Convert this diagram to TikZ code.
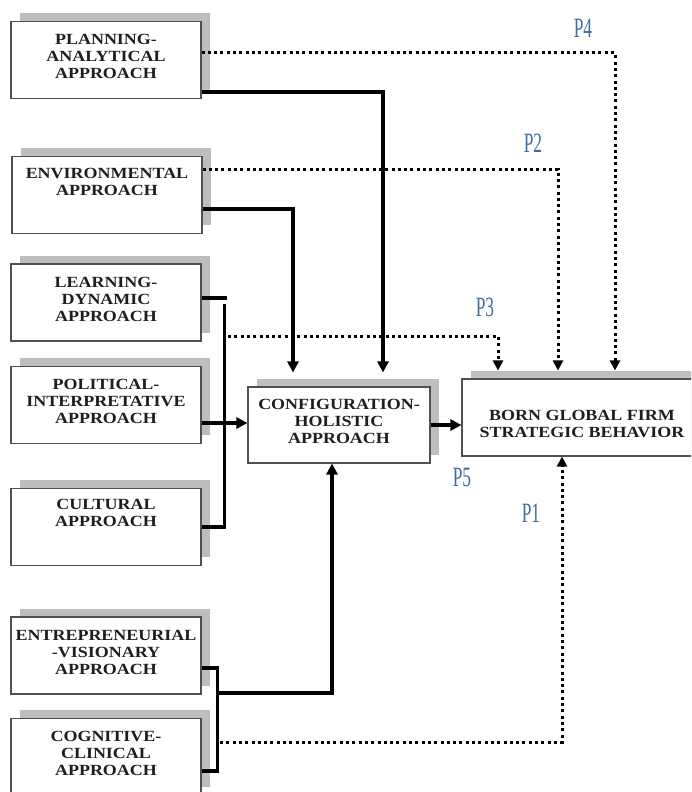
\documentclass[tikz,border=0pt]{standalone}
\usepackage{fontspec}
\setmainfont{Liberation Serif}
\newfontfamily\boxfont{Liberation Serif}[FakeStretch=1.16]
\newfontfamily\pfont{Liberation Serif}[FakeStretch=0.62]
\usetikzlibrary{arrows.meta,shadows,calc}
\definecolor{shadowgray}{HTML}{BEBEBE}
\definecolor{bordergray}{HTML}{505050}
\definecolor{pblue}{HTML}{3F6AA3}
\definecolor{boxtext}{HTML}{1E1E1E}
\newcommand{\lowfill}{\rule[-7pt]{0pt}{1pt}}
\tikzset{
  box/.style={draw=bordergray, line width=1.1pt, fill=white, align=center,
    text=boxtext, font=\boxfont\bfseries\fontsize{15.5}{17}\selectfont, inner sep=0pt,
    general shadow={fill=shadowgray, draw=none, shadow xshift=8.5pt, shadow yshift=8.5pt}},
  leftbox/.style={box, minimum width=190pt, minimum height=77pt},
  solidline/.style={line width=3.3pt, draw=black},
  solidarrow/.style={solidline, -{Triangle[length=11pt,width=11pt]}},
  dotline/.style={line width=3pt, draw=black, dash pattern=on 3pt off 3.3pt},
  dotarrow/.style={dotline, -{Triangle[length=10pt,width=10pt]}},
  plabel/.style={text=pblue, font=\pfont\fontsize{28}{28}\selectfont, inner sep=0pt}
}
\begin{document}
\begin{tikzpicture}[x=1pt,y=-1pt]
\useasboundingbox (0,0) rectangle (691,792);
\clip (0,0) rectangle (691,792);
\fill[white] (0,0) rectangle (691,792);

% left boxes
\node[leftbox] (pa) at (106,60) {PLANNING-\\ANALYTICAL\\APPROACH\lowfill};
\node[leftbox] (env) at (107,195) {ENVIRONMENTAL\\APPROACH\\[4pt]\strut};
\node[leftbox] (ld) at (106,302.5) {LEARNING-\\DYNAMIC\\APPROACH\lowfill};
\node[leftbox] (pi) at (106,405) {POLITICAL-\\INTERPRETATIVE\\APPROACH\lowfill};
\node[leftbox] (cul) at (106,527) {CULTURAL\\APPROACH\\[6pt]\strut};
\node[leftbox] (ev) at (106,655.5) {ENTREPRENEURIAL\\-VISIONARY\\APPROACH\lowfill};
\node[leftbox] (cc) at (106,757) {COGNITIVE-\\CLINICAL\\APPROACH\lowfill};

% central and target boxes
\node[box, minimum width=182pt, minimum height=76pt] (cfg) at (339,425) {CONFIGURATION-\\HOLISTIC\\APPROACH\lowfill};
\node[box, minimum width=240pt, minimum height=77pt] (bgf) at (582,417.5) {\rule{0pt}{23pt}BORN GLOBAL FIRM\\STRATEGIC BEHAVIOR};

% free ends
\coordinate (p3s) at (228,336);
\coordinate (jn) at (217,693);
\coordinate (p1s) at (220,742);

% solid connectors
\draw[solidarrow] ([yshift=-32pt]pa.east) -| ([xshift=44pt,yshift=14pt]cfg.north);
\draw[solidarrow] ([yshift=-14pt]env.east) -| ([xshift=-46pt,yshift=14pt]cfg.north);
\draw[solidline] ([yshift=4.5pt]ld.east) -- ++(25,0);
\draw[solidline] ([yshift=-1pt,xshift=23pt]ld.east) |- (cul.east);
\draw[solidarrow] ([yshift=-18pt]pi.east) -- ([yshift=2pt]cfg.west);
\draw[solidarrow] (cfg.east) -- (bgf.west |- cfg.east);
\draw[solidline] ([yshift=-12.5pt]ev.east) -- ++(16,0) |- ([yshift=-14pt]cc.east);
\draw[solidarrow] (jn) -| ([xshift=-7pt]cfg.south);

% dotted connectors
\draw[dotarrow] ([yshift=7pt]pa.east) -| ([xshift=33pt,yshift=8pt]bgf.north);
\draw[dotarrow] ([yshift=26pt]env.east) -| ([xshift=-24pt,yshift=8pt]bgf.north);
\draw[dotarrow] (p3s) -| ([xshift=-84pt,yshift=8pt]bgf.north);
\draw[dotarrow] (p1s) -| ([xshift=-20pt]bgf.south);

% labels
\node[plabel] (l4) at (583,28) {P4};
\node[plabel] (l2) at (533,143) {P2};
\node[plabel] (l3) at (485,307) {P3};
\node[plabel] (l5) at (462,477) {P5};
\node[plabel] (l1) at (531,513) {P1};
\end{tikzpicture}
\end{document}
